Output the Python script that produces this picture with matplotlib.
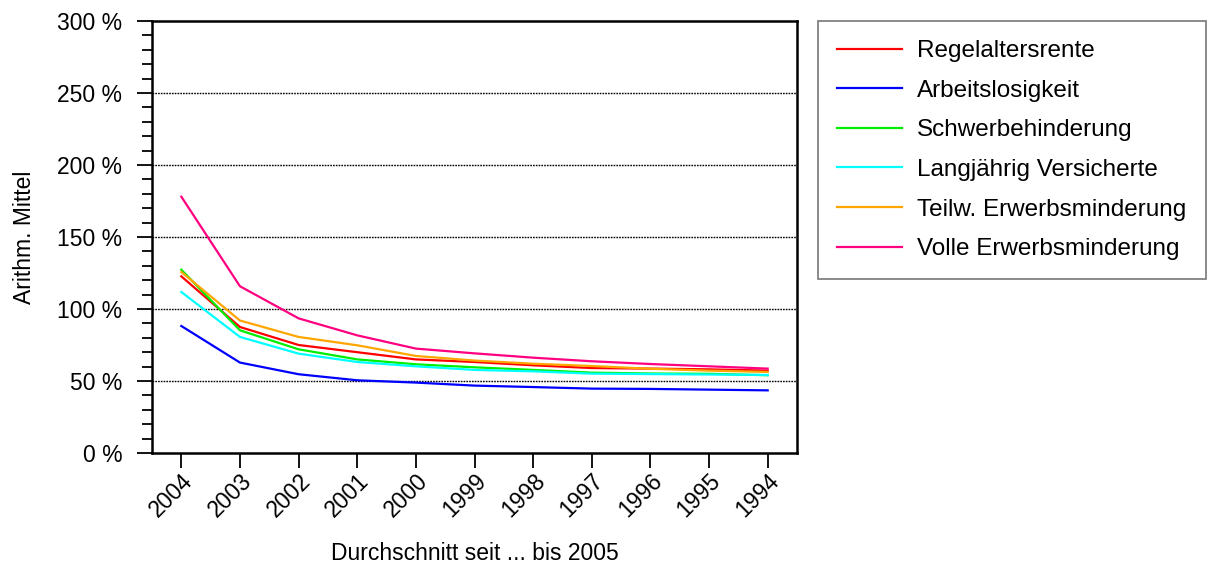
import matplotlib
matplotlib.use("Agg")
import matplotlib.pyplot as plt
from matplotlib.ticker import MultipleLocator, FuncFormatter
from matplotlib.transforms import ScaledTranslation

plt.rcParams['font.family'] = ['Liberation Sans', 'DejaVu Sans']

years = ['2004', '2003', '2002', '2001', '2000', '1999', '1998', '1997', '1996', '1995', '1994']
regelaltersrente = [122.7, 87.5, 75.0, 70.0, 65.0, 63.2, 60.9, 59.0, 58.6, 58.1, 57.2]
arbeitslosigkeit = [88.2, 62.8, 54.7, 50.5, 48.9, 46.8, 45.8, 44.7, 44.5, 44.0, 43.5]
schwerbehinderung = [127.3, 85.2, 72.0, 65.0, 61.6, 59.5, 57.7, 55.8, 55.2, 55.0, 54.0]
langjaehrig = [111.8, 80.6, 69.0, 63.2, 60.2, 57.7, 56.7, 55.1, 54.8, 54.5, 54.2]
teilw = [125.7, 92.0, 80.6, 74.8, 67.4, 64.2, 62.0, 60.4, 58.5, 57.2, 56.3]
volle = [178.0, 115.8, 93.5, 81.7, 72.5, 69.2, 66.2, 63.7, 61.8, 60.2, 58.6]

series = [
    ("Regelaltersrente", regelaltersrente, "#FF0000"),
    ("Arbeitslosigkeit", arbeitslosigkeit, "#0000FF"),
    ("Schwerbehinderung", schwerbehinderung, "#00EE00"),
    ("Langjährig Versicherte", langjaehrig, "#00FFFF"),
    ("Teilw. Erwerbsminderung", teilw, "#FFA500"),
    ("Volle Erwerbsminderung", volle, "#FF0080"),
]

W, H = 1211, 581
fig = plt.figure(figsize=(W / 100, H / 100), dpi=100)
ax = fig.add_axes([152 / W, 1 - 453 / H, (797 - 152) / W, (453 - 21) / H])

x = list(range(len(years)))
for name, vals, col in series:
    ax.plot(x, vals, color=col, lw=1.6, label=name)

ax.set_xlim(-0.5, len(years) - 0.5)
ax.set_ylim(0, 300)
ax.set_xticks(x)
ax.set_xticklabels(years, rotation=45, ha='right', va='top', rotation_mode='anchor')
offset = ScaledTranslation(5 / 100, 6 / 100, fig.dpi_scale_trans)
for lbl in ax.get_xticklabels():
    lbl.set_transform(lbl.get_transform() + offset)
ax.yaxis.set_major_locator(MultipleLocator(50))
ax.yaxis.set_minor_locator(MultipleLocator(10))
ax.yaxis.set_major_formatter(FuncFormatter(lambda v, p: f"{int(v)} %"))

for yv in range(50, 300, 50):
    ax.axhline(yv, color='black', lw=1.0, ls=(0, (1.2, 0.8)), zorder=0.5)

for s in ax.spines.values():
    s.set_linewidth(1.8)
ax.tick_params(axis='both', which='major', direction='out', length=10.5, width=1.3, labelsize=16.5)
ax.tick_params(axis='y', which='minor', direction='out', length=7, width=1.3)
ax.tick_params(axis='y', which='major', pad=11)
ax.tick_params(axis='x', which='major', pad=1)

ax.set_ylabel("Arithm. Mittel", fontsize=16.5, labelpad=15)
ax.set_xlabel("Durchschnitt seit ... bis 2005", fontsize=16.5, labelpad=15)

leg = fig.legend(loc='upper left', bbox_to_anchor=(818 / W, 1 - 21 / H), fontsize=17.5,
                 frameon=True, fancybox=False, shadow=False, borderaxespad=0,
                 handlelength=2.65, handletextpad=0.62, labelspacing=0.72, borderpad=0.8)
leg.get_frame().set_edgecolor('#555555')
leg.get_frame().set_linewidth(1.2)
for l in leg.get_lines():
    l.set_linewidth(1.6)

fig.savefig("out.png", dpi=100)
